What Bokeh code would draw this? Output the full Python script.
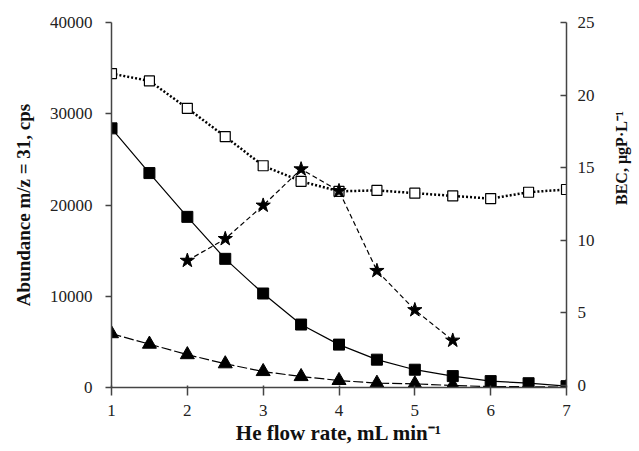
import math
from bokeh.plotting import figure
from bokeh.models import LinearAxis, Range1d, FixedTicker, Label
from bokeh.embed import file_html
from bokeh.resources import INLINE

flow = [1, 1.5, 2, 2.5, 3, 3.5, 4, 4.5, 5, 5.5, 6, 6.5, 7]
open_sq = [34400, 33600, 30600, 27500, 24300, 22600, 21500, 21600, 21300, 21000, 20700, 21400, 21700]
filled_sq = [28400, 23500, 18700, 14100, 10300, 6900, 4700, 3050, 1950, 1250, 700, 470, 150]
triangles = [5900, 4750, 3600, 2600, 1750, 1200, 770, 470, 400, 220, 100, 80, 50]
star_flow = [2, 2.5, 3, 3.5, 4, 4.5, 5, 5.5]
bec = [8.6, 10.1, 12.4, 14.9, 13.4, 7.9, 5.2, 3.1]
x_ticks = [1, 2, 3, 4, 5, 6, 7]
left_ticks = [0, 10000, 20000, 30000, 40000]
right_ticks = [0, 5, 10, 15, 20, 25]

FONT = "Liberation Serif"

p = figure(frame_width=455, frame_height=365, output_backend="svg", toolbar_location=None,
           x_range=Range1d(1, 7), y_range=Range1d(0, 40000),
           min_border_left=111, min_border_right=70, min_border_top=22, min_border_bottom=10)
p.outline_line_color = None
p.grid.visible = False
p.extra_y_ranges = {"bec": Range1d(-0.14, 25)}

p.line(flow, open_sq, line_color="black", line_width=2.5, line_dash="2 2")
p.scatter(flow, open_sq, marker="square", size=10, fill_color="white", line_color="black", line_width=1.2)

p.line(flow, filled_sq, line_color="black", line_width=1.2)
p.scatter(flow, filled_sq, marker="square", size=11, fill_color="black", line_color="black")

p.line(flow, triangles, line_color="black", line_width=1.2, line_dash="10 3")
p.scatter(flow, triangles, marker="triangle", size=14, fill_color="black", line_color="black")

p.line(star_flow, bec, line_color="black", line_width=1.2, line_dash="5 3", y_range_name="bec")
p.scatter(star_flow, bec, marker="star", size=15, fill_color="black", line_color="black", y_range_name="bec")

ax_r = LinearAxis(y_range_name="bec", ticker=FixedTicker(ticks=right_ticks))
p.add_layout(ax_r, "right")

p.xaxis.ticker = FixedTicker(ticks=x_ticks)
p.yaxis[0].ticker = FixedTicker(ticks=left_ticks)
p.xaxis.axis_label = "He flow rate, mL min⁻¹"
p.yaxis[0].axis_label = "Abundance m/z = 31, cps"

for ax in [p.xaxis[0], p.yaxis[0], ax_r]:
    ax.axis_line_color = "#444444"
    ax.axis_line_width = 1.5
    ax.major_tick_line_color = "#444444"
    ax.major_tick_line_width = 1.5
    ax.minor_tick_line_color = None
    ax.major_label_text_font = FONT
    ax.major_label_text_font_size = "17px"
    ax.major_label_text_color = "#222222"
    ax.axis_label_text_font = FONT
    ax.axis_label_text_font_style = "bold"
    ax.axis_label_text_color = "#111111"

p.xaxis[0].axis_label_text_font_size = "21px"
p.yaxis[0].axis_label_text_font_size = "19px"

p.yaxis[0].major_tick_out = 6
p.yaxis[0].major_tick_in = 0
p.yaxis[0].major_label_standoff = 13
p.yaxis[0].axis_label_standoff = 13
ax_r.major_tick_out = 0
ax_r.major_tick_in = 6
ax_r.major_label_standoff = 11
p.xaxis[0].major_tick_out = 8
p.xaxis[0].major_tick_in = 2
p.xaxis[0].major_label_standoff = 9
p.xaxis[0].axis_label_standoff = 2

if "axis_label_orientation" in ax_r.properties():
    ax_r.axis_label = "BEC, µgP·L⁻¹"
    ax_r.axis_label_text_font_size = "16px"
    ax_r.axis_label_orientation = math.pi / 2
    ax_r.axis_label_standoff = 24
else:
    right_label = Label(x=7, y=12.4, y_range_name="bec", x_offset=58, text="BEC, µgP·L⁻¹",
                        angle=math.pi / 2, angle_units="rad", text_align="center",
                        text_baseline="middle", text_font=FONT, text_font_size="16px",
                        text_font_style="bold", text_color="#111111")
    p.add_layout(right_label)

open("out.html", "w").write(file_html(p, INLINE))
